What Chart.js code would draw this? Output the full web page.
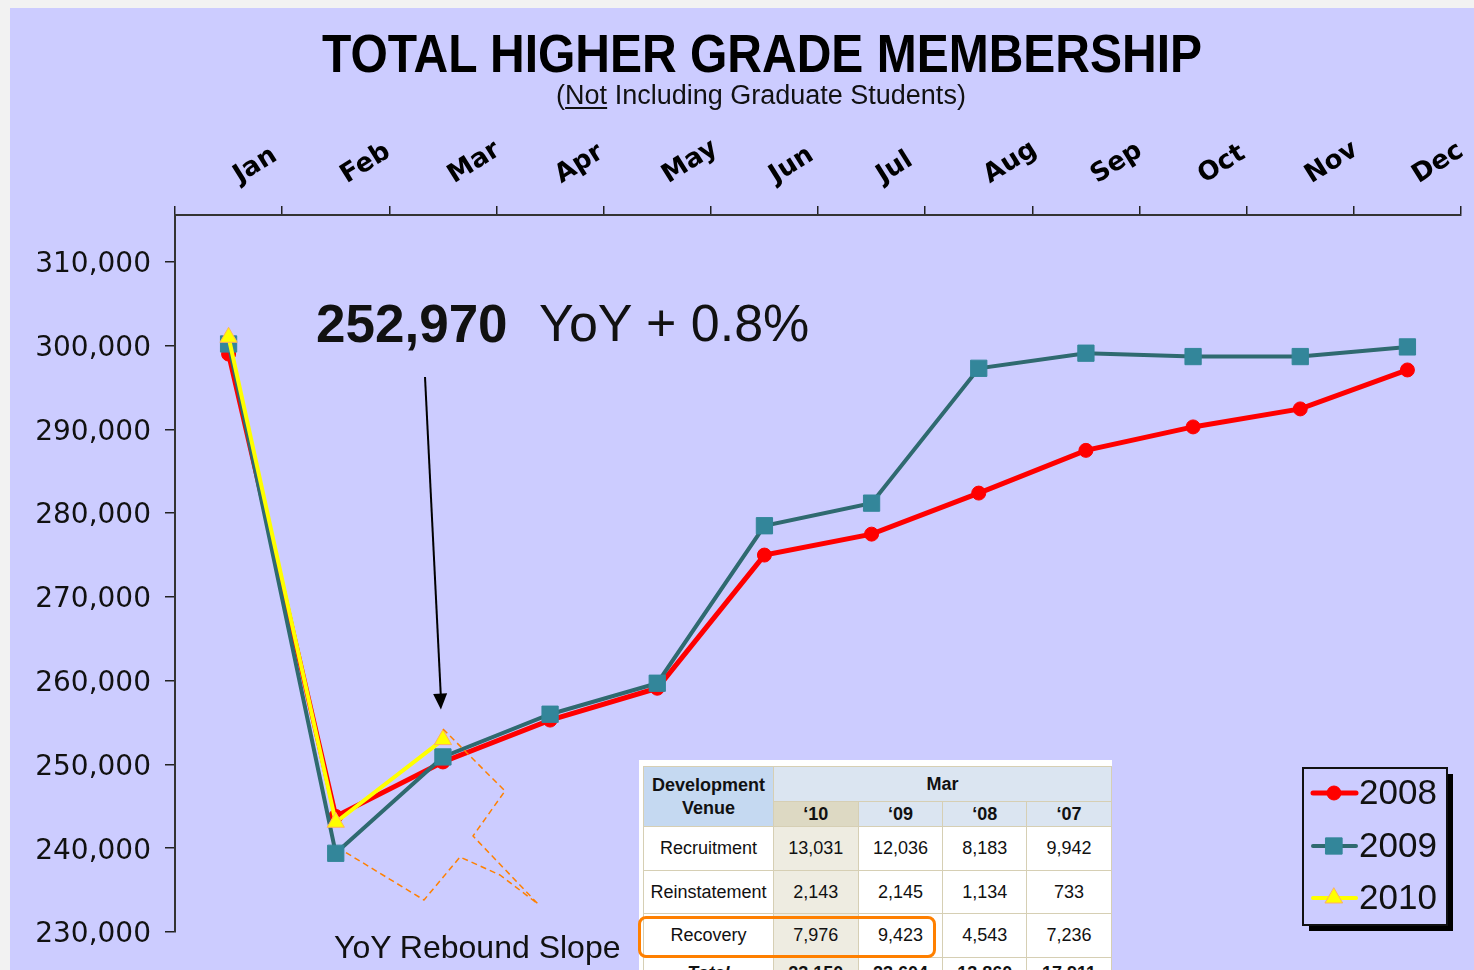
<!DOCTYPE html>
<html>
<head>
<meta charset="utf-8">
<script src="https://cdn.jsdelivr.net/npm/chart.js@4.4.1/dist/chart.umd.min.js"></script>
<style>
  html, body { margin:0; padding:0; background:#f2f2f2; width:1474px; height:970px; overflow:hidden; }
  #bg { position:absolute; left:10px; top:8px; width:1464px; height:962px; background:#ccccff; }
  #c { position:absolute; left:0; top:0; }
  .txt { position:absolute; font-family:"Liberation Sans", Arial, sans-serif; color:#000; white-space:nowrap; }
  #title { left:0; width:1524px; text-align:center; top:22px; font-size:48px; font-weight:bold; transform:scaleY(1.13); transform-origin:center top; }
  #subtitle { left:0; width:1522px; text-align:center; top:80px; font-size:27px; color:#111; }
  #subtitle u { text-decoration:underline; text-underline-offset:3px; }
  #big1 { left:316px; top:293px; font-size:53px; font-weight:bold; color:#111; }
  #big2 { left:539px; top:293px; font-size:52px; color:#111; }
  #slope { left:334px; top:929px; font-size:32px; color:#111; }
  #tbox { position:absolute; left:639px; top:760px; width:473px; height:215px; background:#fff; overflow:hidden; }
  #tbl { position:absolute; left:4px; top:6px; border-collapse:collapse; font-family:"Liberation Sans", Arial, sans-serif; font-size:18px; color:#111; }
  #tbl td { border:1px solid #d6cfb4; text-align:center; padding:0; }
  #tbl .hd { background:#c5d9f1; font-weight:bold; line-height:23px; }
  #tbl .mh { background:#dbe5f1; font-weight:bold; height:34px; }
  #tbl .y10 { background:#ddd9c3; font-weight:bold; }
  #tbl .yh { background:#dbe5f1; font-weight:bold; }
  #tbl .c10 { background:#eeece1; }
  #tbl tr.totrow td { vertical-align:top; padding-top:5px; font-weight:bold; }
  #tbl tr.totrow td.tot { font-style:italic; }
  #hl { position:absolute; left:638px; top:916px; width:292px; height:36px; border:3px solid #ff8000; border-radius:8px; }
</style>
</head>
<body>
<div id="bg"></div>
<canvas id="c" width="1474" height="970"></canvas>
<div class="txt" id="title">TOTAL HIGHER GRADE MEMBERSHIP</div>
<div class="txt" id="subtitle">(<u>Not</u> Including Graduate Students)</div>
<div class="txt" id="big1">252,970</div>
<div class="txt" id="big2">YoY + 0.8%</div>
<div class="txt" id="slope">YoY Rebound Slope</div>
<div id="tbox"><table id="tbl"></table></div>
<div id="hl"></div>
<script>
// ---- data ----
const months = ['Jan','Feb','Mar','Apr','May','Jun','Jul','Aug','Sep','Oct','Nov','Dec'];
const seriesNames = ['2008','2009','2010'];
const values2008 = [299000, 243800, 250300, 255300, 259100, 275000, 277500, 282400, 287500, 290300, 292450, 297100];
const values2009 = [300200, 239400, 250900, 256000, 259700, 278500, 281200, 297300, 299100, 298700, 298700, 299850];
const values2010 = [301000, 243100, 252970, null, null, null, null, null, null, null, null, null];
const yTicks = [230000, 240000, 250000, 260000, 270000, 280000, 290000, 300000, 310000];

// table data
const tblMonth = 'Mar';
const tblYears = ['\u201810', '\u201809', '\u201808', '\u201807'];
const tblRows = ['Recruitment', 'Reinstatement', 'Recovery', 'Total'];
const tblRecruitment = ['13,031', '12,036', '8,183', '9,942'];
const tblReinstatement = ['2,143', '2,145', '1,134', '733'];
const tblRecovery = ['7,976', '9,423', '4,543', '7,236'];
const tblTotal = ['23,150', '23,604', '13,860', '17,911'];

// ---- build table ----
(function(){
  const t = document.getElementById('tbl');
  const widths = [129, 84, 84, 83, 84];
  let h = '<tr><td class="hd" rowspan="2" style="width:'+widths[0]+'px">Development<br>Venue</td>' +
          '<td class="mh" colspan="4">' + tblMonth + '</td></tr><tr style="height:25px">';
  tblYears.forEach((y,i)=>{ h += '<td class="'+(i===0?'y10':'yh')+'" style="width:'+widths[i+1]+'px">'+y+'</td>'; });
  h += '</tr>';
  const body = [tblRecruitment, tblReinstatement, tblRecovery, tblTotal];
  tblRows.forEach((r,ri)=>{
    const isTot = ri === 3;
    h += '<tr'+(isTot?' class="totrow"':'')+' style="height:'+(ri===1?43:44)+'px"><td'+(isTot?' class="tot"':'')+'>'+r+'</td>';
    body[ri].forEach((v,ci)=>{
      h += '<td class="'+(ci===0?'c10':'')+'">'+v+'</td>';
    });
    h += '</tr>';
  });
  t.innerHTML = h;
})();

// ---- plugins ----
const annotPlugin = {
  id: 'annot',
  afterDatasetsDraw(chart) {
    const ctx = chart.ctx;
    ctx.save();
    // dashed orange callout
    ctx.strokeStyle = '#ff8000';
    ctx.lineWidth = 1.5;
    ctx.setLineDash([6, 4]);
    ctx.lineJoin = 'round';
    ctx.beginPath();
    const pts = [[443,729],[505,791],[473,836],[538,904],[500,875],[460,857],[424,900],[345,852]];
    ctx.moveTo(pts[0][0], pts[0][1]);
    for (let i = 1; i < pts.length; i++) ctx.lineTo(pts[i][0], pts[i][1]);
    ctx.stroke();
    ctx.setLineDash([]);
    // arrow pointing to Mar 2010
    const p = chart.getDatasetMeta(2).data[2];
    const tipX = p.x - 2, tipY = p.y - 30;
    ctx.strokeStyle = '#000';
    ctx.fillStyle = '#000';
    ctx.lineWidth = 2;
    ctx.beginPath();
    ctx.moveTo(425, 377);
    ctx.lineTo(tipX, tipY - 12);
    ctx.stroke();
    const ang = Math.atan2(tipY - 377, tipX - 425);
    ctx.beginPath();
    ctx.moveTo(tipX, tipY);
    ctx.lineTo(tipX - 16*Math.cos(ang) + 7*Math.sin(ang), tipY - 16*Math.sin(ang) - 7*Math.cos(ang));
    ctx.lineTo(tipX - 16*Math.cos(ang) - 7*Math.sin(ang), tipY - 16*Math.sin(ang) + 7*Math.cos(ang));
    ctx.closePath();
    ctx.fill();
    ctx.restore();
  },
  afterDraw(chart) {
    // custom legend box
    const ctx = chart.ctx;
    const bx = 1303, by = 768, bw = 144, bh = 157;
    ctx.save();
    ctx.fillStyle = '#000';
    ctx.fillRect(bx + 6, by + 6, bw, bh);
    ctx.fillStyle = '#ccccff';
    ctx.fillRect(bx, by, bw, bh);
    ctx.strokeStyle = '#111';
    ctx.lineWidth = 2;
    ctx.strokeRect(bx, by, bw, bh);
    const rows = [793, 846, 898];
    chart.data.datasets.forEach((ds, i) => {
      const y = rows[i];
      ctx.strokeStyle = ds.borderColor;
      ctx.lineWidth = ds.borderWidth;
      ctx.lineCap = 'round';
      ctx.beginPath();
      ctx.moveTo(1313, y);
      ctx.lineTo(1356, y);
      ctx.stroke();
      ctx.fillStyle = ds.pointBackgroundColor;
      ctx.strokeStyle = ds.pointBorderColor;
      ctx.lineWidth = ds.pointBorderWidth;
      Chart.helpers.drawPoint(ctx, {pointStyle: ds.pointStyle, radius: ds.pointRadius, rotation: 0, borderWidth: ds.pointBorderWidth}, 1334, y);
      ctx.fillStyle = '#111';
      ctx.font = '35px "Liberation Sans", Arial, sans-serif';
      ctx.textBaseline = 'middle';
      ctx.textAlign = 'left';
      ctx.fillText(ds.label, 1359, y + 1);
    });
    ctx.restore();
  }
};

new Chart(document.getElementById('c'), {
  type: 'line',
  data: {
    labels: months,
    datasets: [
      { label: seriesNames[0], data: values2008, order: 3,
        borderColor: '#ff0000', borderWidth: 5, pointStyle: 'circle', pointRadius: 7,
        pointBackgroundColor: '#ff0000', pointBorderColor: '#ff0000', pointBorderWidth: 1 },
      { label: seriesNames[1], data: values2009, order: 2,
        borderColor: '#2f6a70', borderWidth: 4, pointStyle: 'rect', pointRadius: 11.5,
        pointBackgroundColor: '#33869a', pointBorderColor: '#33869a', pointBorderWidth: 1 },
      { label: seriesNames[2], data: values2010, order: 1,
        borderColor: '#ffff00', borderWidth: 4, pointStyle: 'triangle', pointRadius: 10,
        pointBackgroundColor: '#ffff00', pointBorderColor: '#ffb060', pointBorderWidth: 1 }
    ]
  },
  options: {
    responsive: false,
    animation: false,
    devicePixelRatio: 1,
    spanGaps: false,
    layout: { padding: { left: 0, top: 0, right: 13, bottom: 38 } },
    elements: { line: { tension: 0 } },
    plugins: { legend: { display: false }, tooltip: { enabled: false }, title: { display: false } },
    scales: {
      x: {
        position: 'top',
        offset: true,
        afterFit(s) { s.height = 215; },
        grid: { display: true, offset: true, drawOnChartArea: false, drawTicks: true, tickLength: 9, color: '#222', lineWidth: 1.5 },
        border: { display: true, color: '#333', width: 2 },
        ticks: {
          minRotation: 32, maxRotation: 32, padding: 15, labelOffset: 24, autoSkip: false,
          color: '#000',
          font: { family: '"DejaVu Sans", Verdana, sans-serif', size: 26, weight: 'bold' }
        }
      },
      y: {
        min: 230000, max: 315600,
        afterFit(s) { s.width = 175; },
        afterBuildTicks(s) { s.ticks = yTicks.map(v => ({ value: v })); },
        grid: { display: true, drawOnChartArea: false, drawTicks: true, tickLength: 10, color: '#222', lineWidth: 1.5 },
        border: { display: true, color: '#333', width: 2 },
        ticks: {
          padding: 14, labelOffset: 3, color: '#111',
          font: { family: '"DejaVu Sans", Verdana, sans-serif', size: 28 },
          callback: (v) => Number(v).toLocaleString('en-US')
        }
      }
    }
  },
  plugins: [annotPlugin]
});
</script>
</body>
</html>
